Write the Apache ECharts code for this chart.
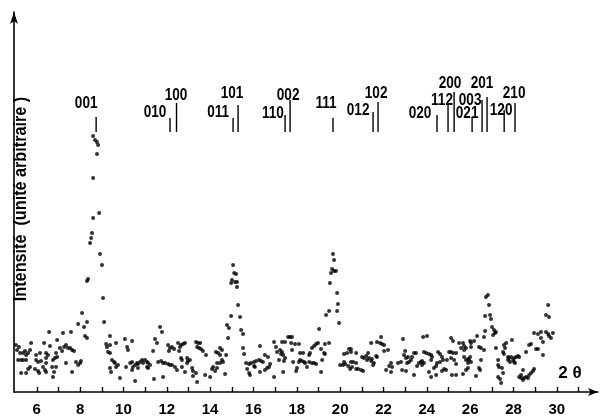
<!DOCTYPE html>
<html><head><meta charset="utf-8">
<script src="https://cdn.jsdelivr.net/npm/echarts@6/dist/echarts.min.js"></script>
<style>html,body{margin:0;padding:0;background:#fff}#c{width:600px;height:419px}</style>
</head><body><div id="c"></div>
<script>
// ---- axis ticks / labels ----
const tickValues = [6,7,8,9,10,11,12,13,14,15,16,17,18,19,20,21,22,23,24,25,26,27,28,29,30,31];
const labelValues = [6,8,10,12,14,16,18,20,22,24,26,28,30];

// ---- reflections (hkl) ----
const hklNames = ['001','010','100','011','101','110','002','111','012','102','020','112','200','021','003','201','120','210'];
const hklPos   = [8.74,12.15,12.45,15.06,15.29,17.46,17.69,19.67,21.52,21.75,24.47,24.98,25.26,26.09,26.55,26.78,27.57,28.07];
const hklTop   = [275,274,289,274,287,277,292,274,280,290,277,289,300,275,292,295,282,289];
const hklBase  = 260;
const hklLabelX = [8.28,11.46,12.43,14.37,15.01,16.90,17.60,19.35,20.83,21.66,23.69,24.70,25.07,25.86,26.00,26.55,27.43,28.03];
const hklLabelY = [289,280,297,280,299,279,297,289,282,299,279,292,309,279,292,309,282,299];

// ---- measured points [2theta, intensity] ----
const scan5to8 = [[5.04,47],[5.18,45],[5.09,42],[5.23,39],[5.14,32],[5.28,32],[5.37,32],[5.51,32],[5.28,19],[5.51,19],[5.46,41],[5.37,39],[5.60,39],[5.69,42],[5.51,37],[5.74,49],[5.60,23],[5.69,25],[5.97,37],[6.15,39],[5.97,32],[6.06,30],[6.20,31],[5.92,23],[6.06,21],[6.11,19],[6.34,49],[6.43,39],[6.52,37],[6.43,34],[6.43,29],[6.29,25],[6.38,22],[6.43,20],[6.57,60],[6.61,46],[6.71,25],[6.80,20],[6.75,15],[6.89,25],[6.89,39],[6.94,35],[6.84,34],[6.75,32],[6.94,52],[7.07,44],[7.17,41],[7.21,59],[7.26,45],[7.35,47],[7.44,44],[7.35,29],[7.54,44],[7.58,60],[7.63,42],[7.72,41],[7.63,20],[7.81,30],[7.91,27],[8.00,29],[8.04,31],[7.91,68],[8.09,79],[8.18,65],[8.32,70],[8.23,56],[8.32,54]];
const peak001 = [[8.60,256],[8.69,252],[8.78,250],[8.83,247],[8.78,238],[8.60,214],[8.88,179],[8.60,174],[8.55,159],[8.51,154],[8.46,149],[8.92,138],[9.01,127],[8.37,113],[8.32,111],[9.06,94],[9.11,70]];
const scan9to15 = [[9.20,48],[9.24,45],[9.38,47],[9.29,40],[9.38,39],[9.38,56],[9.66,49],[10.07,53],[9.47,32],[9.57,30],[9.61,29],[9.38,24],[9.43,20],[9.66,25],[9.75,27],[9.84,14],[10.12,25],[10.17,45],[10.21,42],[10.40,51],[10.31,29],[10.40,30],[10.44,25],[10.54,27],[10.63,29],[10.67,28],[10.77,30],[10.86,32],[10.91,29],[11.00,32],[11.09,30],[11.14,29],[11.23,27],[11.14,24],[11.09,25],[10.67,24],[10.40,22],[10.54,11],[11.41,13],[11.37,41],[11.46,53],[11.55,49],[11.69,65],[11.78,60],[11.60,30],[11.74,31],[11.83,29],[11.92,29],[12.06,28],[12.15,27],[12.24,27],[12.38,25],[12.47,22],[11.83,15],[12.06,47],[12.15,44],[12.24,45],[12.34,43],[12.10,41],[12.52,49],[12.66,47],[12.75,48],[12.84,49],[12.61,45],[12.57,41],[12.66,34],[12.70,32],[12.94,34],[12.98,31],[13.07,32],[12.94,29],[12.70,25],[12.84,20],[13.17,24],[13.21,21],[13.35,19],[13.21,16],[13.40,10],[13.35,50],[13.44,49],[13.54,49],[13.40,45],[13.49,44],[13.58,43],[13.67,41],[13.81,37],[13.77,17],[14.00,15],[14.27,40],[14.37,39],[14.46,44],[14.55,42],[14.46,37],[14.74,37],[14.55,32],[14.60,30],[14.46,29],[14.32,29],[14.14,25],[14.09,23],[14.32,24],[14.23,21],[14.69,18]];
const peak101 = [[15.06,127],[15.11,119],[15.20,118],[15.01,112],[15.15,110],[15.24,110],[14.97,109],[15.24,105],[15.29,87],[14.97,76],[15.38,75],[14.78,67],[14.87,64],[15.43,62],[15.52,58],[14.83,54],[15.52,44],[15.57,38]];
const scan15to19 = [[15.66,29],[15.80,28],[15.89,29],[16.03,30],[16.12,31],[16.26,32],[16.35,31],[16.44,30],[15.71,23],[15.80,19],[15.84,17],[16.03,26],[16.07,25],[16.30,46],[16.30,20],[16.53,22],[16.63,24],[16.72,25],[16.77,28],[16.53,37],[16.67,35],[16.95,50],[17.04,45],[17.09,40],[17.23,42],[17.32,40],[17.27,38],[17.37,37],[16.95,15],[17.18,32],[17.41,31],[17.46,34],[17.37,20],[17.32,50],[17.46,50],[17.60,55],[17.69,55],[17.78,55],[17.74,49],[17.78,42],[17.92,48],[18.10,48],[17.83,30],[18.01,24],[17.97,21],[18.10,30],[18.15,32],[18.24,31],[18.34,30],[18.38,29],[18.57,30],[18.70,29],[18.80,29],[18.89,28],[18.15,39],[18.29,39],[18.47,25],[18.57,37],[18.61,39],[18.70,44],[18.80,46],[18.89,48],[18.98,49],[19.12,43],[19.17,32],[19.12,20],[19.26,39],[19.30,38],[19.49,49],[19.30,48],[19.03,63],[19.35,77],[19.49,81]];
const peak111 = [[19.67,138],[19.72,132],[19.58,119],[19.63,123],[19.72,121],[19.81,121],[19.53,109],[19.86,99],[19.90,88],[19.86,81],[19.95,69]];
const scan20to25 = [[20.00,27],[20.13,27],[20.23,28],[20.37,26],[20.55,25],[20.18,30],[20.32,39],[20.41,43],[20.50,43],[20.18,38],[20.46,23],[20.50,40],[20.74,39],[20.50,30],[20.60,30],[20.74,29],[20.74,23],[20.83,23],[20.97,22],[21.06,21],[21.01,35],[21.10,34],[21.20,36],[21.24,32],[21.33,34],[21.43,31],[21.47,33],[21.56,29],[21.52,27],[21.66,36],[21.70,35],[21.29,39],[21.43,49],[21.70,50],[21.84,49],[21.93,48],[22.03,47],[21.89,55],[22.03,41],[22.21,42],[22.12,22],[22.35,20],[22.26,26],[22.35,29],[22.40,25],[22.67,29],[22.81,30],[22.86,22],[23.04,21],[22.90,53],[22.95,37],[23.00,41],[23.04,34],[23.13,35],[23.27,32],[23.32,35],[23.41,39],[23.50,39],[23.18,30],[23.09,29],[23.41,17],[23.55,26],[23.64,29],[23.73,30],[23.78,31],[23.83,55],[24.01,56],[23.87,40],[23.97,39],[24.10,38],[24.20,37],[24.24,35],[24.20,32],[23.78,27],[23.87,29],[24.10,20],[24.20,15],[24.33,24],[24.43,26],[24.47,29],[24.52,40],[24.61,38],[24.70,35],[24.75,32],[24.61,30],[24.43,17],[24.70,21],[24.80,23],[24.89,22],[24.93,32],[25.03,40],[25.12,40],[25.21,39],[25.35,39],[25.12,34],[25.26,32],[25.35,28],[25.16,17],[25.35,17],[25.12,54],[25.21,51],[25.49,49]];
const scan25to30 = [[25.67,49],[25.72,46],[25.58,44],[25.81,44],[25.72,42],[26.04,45],[26.41,45],[26.50,44],[26.64,42],[25.72,35],[25.81,32],[25.90,33],[25.95,32],[26.04,30],[25.90,29],[26.00,35],[25.90,24],[25.81,22],[25.67,18],[26.50,32],[26.46,22],[26.41,24],[26.27,16],[26.32,56],[26.18,51],[26.00,51],[26.04,49],[26.73,95],[26.82,97],[26.87,87],[26.69,76],[26.92,77],[26.96,73],[27.01,65],[27.10,62],[27.15,59],[27.19,60],[27.06,57],[26.69,61],[26.64,55],[27.19,44],[27.29,32],[27.29,27],[27.33,25],[27.66,49],[27.56,47],[27.93,52],[27.52,40],[27.56,38],[27.61,44],[27.75,35],[27.79,34],[27.89,35],[27.98,32],[28.03,34],[28.12,35],[28.21,36],[28.26,35],[28.03,30],[27.84,30],[27.75,32],[28.07,29],[27.47,24],[27.29,15],[27.38,13],[27.43,9],[27.52,19],[28.44,22],[28.35,17],[28.26,15],[28.35,14],[28.44,12],[28.49,14],[28.58,15],[28.67,14],[28.72,17],[28.81,19],[28.90,21],[28.95,23],[28.58,40],[28.72,47],[28.81,48],[28.95,59],[29.13,58],[29.27,60],[29.27,54],[29.36,50],[29.04,43],[29.13,43],[29.36,37],[29.50,60],[29.60,58],[29.64,56],[29.73,54],[29.82,59],[29.50,77],[29.64,75],[29.60,87]];

const FONT = '"Liberation Sans",Arial,sans-serif';

const points = [].concat(scan5to8, peak001, scan9to15, peak101, scan15to19, peak111, scan20to25, scan25to30);
const hklLines = hklPos.map((x, i) => [x, hklBase, hklTop[i]]);
const hklLabels = hklNames.map((n, i) => [hklLabelX[i], hklLabelY[i]]);

const chart = echarts.init(document.getElementById('c'), null, {renderer: 'canvas'});
chart.setOption({
  animation: false,
  backgroundColor: '#fff',
  grid: {left: 14, right: 2, top: 12, bottom: 27, containLabel: false, outerBoundsMode: 'none'},
  xAxis: {
    type: 'value', min: 4.95, max: 31.9,
    axisLine: {show: true, onZero: false, lineStyle: {color: '#000', width: 1.6}, symbol: ['none', 'arrow'], symbolSize: [6, 10]},
    axisTick: {show: true, inside: true, length: 5, customValues: tickValues, lineStyle: {color: '#000', width: 1.4}},
    axisLabel: {show: true, customValues: labelValues, margin: 10, color: '#000', fontSize: 15, fontWeight: 'bold', fontFamily: FONT},
    splitLine: {show: false}
  },
  yAxis: {
    type: 'value', min: 0, max: 380,
    axisLine: {show: true, lineStyle: {color: '#000', width: 1.6}, symbol: ['none', 'arrow'], symbolSize: [6, 12]},
    axisTick: {show: false}, axisLabel: {show: false}, splitLine: {show: false}
  },
  graphic: [
    {type: 'text', x: 21, y: 199, rotation: Math.PI / 2, scaleX: 0.9, style: {text: 'Intensité  (unité arbitraire )', font: 'bold 18px ' + FONT, fill: '#000', align: 'center', verticalAlign: 'middle'}},
    {type: 'text', x: 570, y: 373, style: {text: '2 θ', font: 'bold 17px ' + FONT, fill: '#000', align: 'center', verticalAlign: 'middle'}}
  ],
  series: [
    {type: 'scatter', data: points, symbol: 'circle', symbolSize: 4, itemStyle: {color: '#000'}, silent: true},
    {type: 'custom', data: hklLines, silent: true,
      renderItem: (params, api) => {
        const p1 = api.coord([api.value(0), api.value(1)]);
        const p2 = api.coord([api.value(0), api.value(2)]);
        return {type: 'line', shape: {x1: p1[0], y1: p1[1], x2: p2[0], y2: p2[1]}, style: {stroke: '#000', lineWidth: 1.4}};
      }},
    {type: 'custom', data: hklLabels, silent: true,
      renderItem: (params, api) => {
        const p = api.coord([api.value(0), api.value(1)]);
        return {type: 'text', x: p[0], y: p[1], scaleX: 0.8,
          style: {text: hklNames[params.dataIndex], font: 'bold 17px ' + FONT, fill: '#000', align: 'center', verticalAlign: 'middle'}};
      }}
  ]
});
</script></body></html>
